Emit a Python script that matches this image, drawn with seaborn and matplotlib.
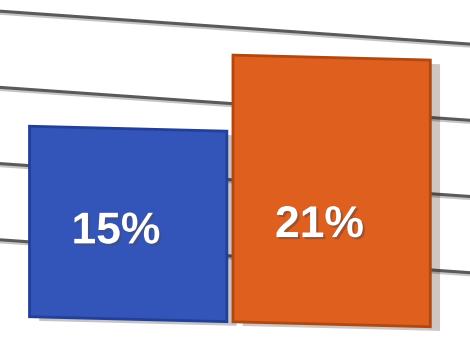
import numpy as np
import pandas as pd
import matplotlib
matplotlib.use("Agg")
import matplotlib.pyplot as plt
import matplotlib.patheffects as pe
from matplotlib.transforms import Affine2D
import seaborn as sns

# data
categories = ["A", "B"]
values = [15, 21]
labels = ["15%", "21%"]
grid_levels = [6, 12, 18, 24]
colors = ["#3354b8", "#de5f1e"]
edge_colors = ["#233f96", "#b04812"]

sns.set_theme(style="white")
plt.rcParams["font.family"] = ["Liberation Sans", "DejaVu Sans"]

fig = plt.figure(figsize=(4.7, 3.56), dpi=100)
ax = fig.add_axes([0, 0, 1, 1])
df = pd.DataFrame({"cat": categories, "val": values})
sns.barplot(data=df, x="cat", y="val", hue="cat", palette=colors,
            saturation=1, width=0.97, legend=False, ax=ax, zorder=3)
ax.set_xlim(-0.63, 1.68)
ax.set_ylim(-3.15, 24.88)
ax.axis("off")

# fake perspective: lines and bars slope down to the right
grid_slant = Affine2D().skew(0, -np.arctan(0.07))
bar_slant = Affine2D().skew(0, -np.arctan(0.025))

for lvl in grid_levels:
    ln = ax.axhline(lvl, color="#5a5a5a", lw=2.2, zorder=1)
    ln.set_transform(ax.get_yaxis_transform() + grid_slant)
    ln.set_path_effects([pe.SimpleLineShadow(offset=(0, -1.5), alpha=0.25), pe.Normal()])

for bar, ec in zip(ax.patches, edge_colors):
    bar.set_transform(ax.transData + bar_slant)
    bar.set_edgecolor(ec)
    bar.set_linewidth(2)
    bar.set_path_effects([pe.withSimplePatchShadow(offset=(7, -3), alpha=0.25)])

for i, (v, lab) in enumerate(zip(values, labels)):
    ax.text(i - 0.06, 4.6 + 0.15 * v, lab, transform=ax.transData + bar_slant,
            ha="center", va="center", color="white", fontsize=32,
            fontweight="bold", zorder=5,
            path_effects=[pe.withSimplePatchShadow(offset=(1.5, -1.5), alpha=0.5)])

fig.savefig("out.png", dpi=100)
